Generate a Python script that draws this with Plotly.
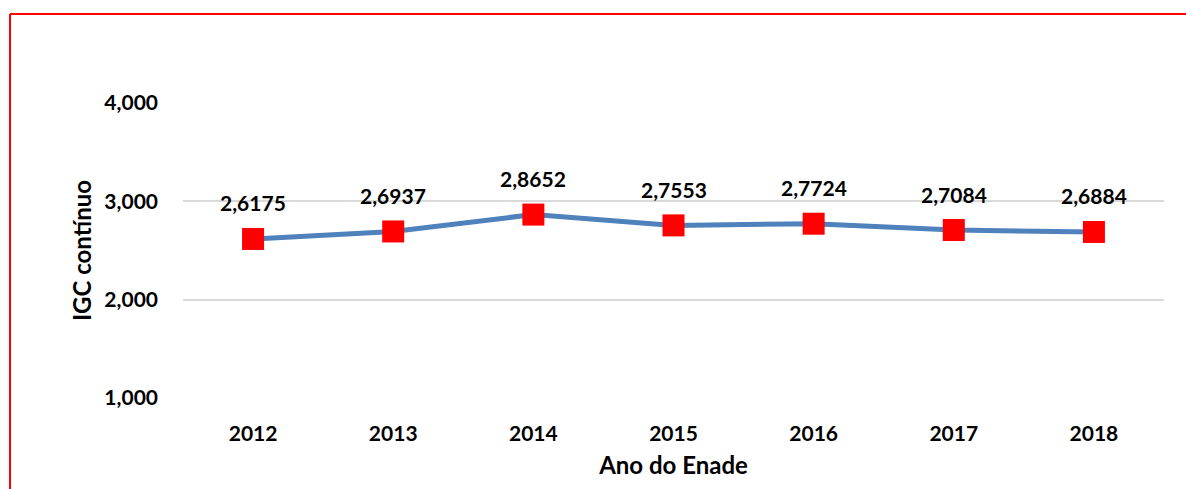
import plotly.graph_objects as go

anos = ["2012", "2013", "2014", "2015", "2016", "2017", "2018"]
igc = [2.6175, 2.6937, 2.8652, 2.7553, 2.7724, 2.7084, 2.6884]
rotulos = ["2,6175", "2,6937", "2,8652", "2,7553", "2,7724", "2,7084", "2,6884"]
y_ticks = [1, 2, 3, 4]
y_tick_labels = ["1,000", "2,000", "3,000", "4,000"]

FONT = "Lato"

fig = go.Figure()
fig.add_trace(go.Scatter(
    x=anos, y=igc, mode="lines+markers",
    line=dict(color="#4F81BD", width=5),
    marker=dict(symbol="square", size=22, color="#FF0000", line=dict(width=0)),
    hoverinfo="skip", showlegend=False,
))

for i, (v, t) in enumerate(zip(igc, rotulos)):
    fig.add_annotation(x=i, y=v, xref="x", yref="y", text="<b>" + t + "</b>",
                       showarrow=False, yshift=36,
                       font=dict(family=FONT, size=21, color="#000000"))

W, H = 1186, 489
L, R, T, B = 183, 1164, 103, 398
pw, ph = R - L, B - T

def px(x):
    return (x - L) / pw

def py(y):
    return (B - y) / ph

fig.add_shape(type="line", xref="paper", yref="paper",
              x0=px(10), x1=px(10), y0=py(14), y1=py(495),
              line=dict(color="#FF0000", width=2))
fig.add_shape(type="line", xref="paper", yref="paper",
              x0=px(10), x1=px(1190), y0=py(14), y1=py(14),
              line=dict(color="#FF0000", width=2))

fig.update_layout(
    width=W, height=H,
    margin=dict(l=L, r=W - R, t=T, b=H - B),
    paper_bgcolor="white", plot_bgcolor="white",
    font=dict(family=FONT, color="#000000"),
    xaxis=dict(
        type="category", range=[-0.5, 6.5], showgrid=False, showline=False,
        ticks="", tickfont=dict(family=FONT, size=21, weight="bold"),
        ticklabelstandoff=21,
        title=dict(text="<b>Ano do Enade</b>", font=dict(family=FONT, size=24), standoff=13),
    ),
    yaxis=dict(
        range=[1, 4], tickvals=y_ticks, ticktext=y_tick_labels,
        showgrid=True, gridcolor="#D9D9D9", gridwidth=1.5, zeroline=False,
        showline=False, ticks="", tickfont=dict(family=FONT, size=21, weight="bold"),
        ticklabelstandoff=24,
        title=dict(text="<b>IGC contínuo</b>", font=dict(family=FONT, size=24), standoff=5),
    ),
)

fig.write_html("out.html", config={"displayModeBar": False},
               post_script="document.body.style.margin='0';document.body.style.overflow='hidden';")
